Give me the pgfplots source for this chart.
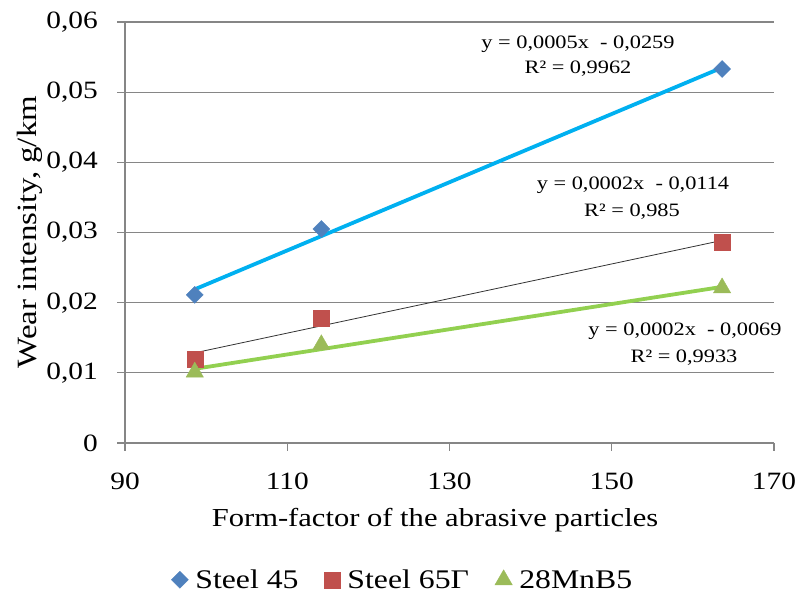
\documentclass[border=0pt]{standalone}
\usepackage{pgfplots}
\pgfplotsset{compat=1.18}
\usepackage{fontspec}
\setmainfont{Liberation Serif}[FakeStretch=1.18]
\definecolor{cA}{HTML}{4F81BD}
\definecolor{cB}{HTML}{C0504D}
\definecolor{cC}{HTML}{9BBB59}
\definecolor{tA}{HTML}{00B0F0}
\definecolor{tC}{HTML}{92D050}
\definecolor{gr}{HTML}{868686}
\begin{document}
\begin{tikzpicture}[x=1bp,y=1bp]
\useasboundingbox (0,0) rectangle (796,595);
\begin{axis}[at={(125bp,152bp)}, anchor=south west, scale only axis,
  width=649bp, height=421bp,
  xmin=90, xmax=170, ymin=0, ymax=0.06,
  scaled y ticks=false, scaled x ticks=false,
  xtick={90,110,130,150,170}, xticklabels={90,110,130,150,170},
  ytick={0,0.01,0.02,0.03,0.04,0.05,0.06},
  yticklabels={0,{0,01},{0,02},{0,03},{0,04},{0,05},{0,06}},
  axis x line*=bottom, axis y line*=left,
  axis line style={gr, line width=1.2bp, -},
  tick style={gr, line width=1.2bp},
  tick align=outside, major tick length=8bp,
  ymajorgrids, grid style={gr, line width=1.2bp},
  ticklabel style={font=\fontsize{25}{28}\selectfont, inner sep=1bp},
  yticklabel style={xshift=-18bp},
  xticklabel style={yshift=-21bp},
  legend style={at={(0.428,-0.325)}, anchor=center, draw=none, legend columns=3,
    font=\fontsize{27}{30}\selectfont,
    /tikz/every odd column/.append style={column sep=5bp},
    /tikz/every even column/.append style={column sep=24bp}},
  clip=false,
]
\addplot[only marks, mark=square*, mark size=6bp, mark options={rotate=45, fill=cA, draw=cA}]
  coordinates {(98.6,0.0211) (114.2,0.0305) (163.6,0.0533)};
\addlegendentry{Steel 45}
\addplot[only marks, mark=square*, mark size=8bp, mark options={fill=cB, draw=cB}]
  coordinates {(98.6,0.0120) (114.2,0.0178) (163.6,0.0286)};
\addlegendentry{Steel 65Γ}
\addplot[only marks, mark=triangle*, mark size=10bp, mark options={fill=cC, draw=cC}]
  coordinates {(98.6,0.0101) (114.2,0.0140) (163.6,0.0221)};
\addlegendentry{28MnB5}
\addplot[forget plot, tA, line width=3.8bp] coordinates {(98.6,0.0219) (163.6,0.0535)};
\addplot[forget plot, black!80, line width=0.8bp] coordinates {(98.6,0.01285) (163.6,0.02887)};
\addplot[forget plot, tC, line width=3.8bp] coordinates {(98.6,0.01057) (163.6,0.02225)};
\end{axis}
\begin{scope}[every node/.style={font=\fontsize{19}{22}\selectfont, inner sep=0pt}]
\node at (578,551) {y = 0,0005x\ \ - 0,0259};
\node at (578,526) {R² = 0,9962};
\node at (633,410) {y = 0,0002x\ \ - 0,0114};
\node at (632,383) {R² = 0,985};
\node at (685,264) {y = 0,0002x\ \ - 0,0069};
\node at (684,237) {R² = 0,9933};
\end{scope}
\node[font=\fontsize{26}{29}\selectfont] at (435,75) {Form-factor of the abrasive particles};
\node[rotate=90, font=\fontsize{28}{31}\selectfont] at (30,363) {Wear intensity, g/km};
\end{tikzpicture}
\end{document}
